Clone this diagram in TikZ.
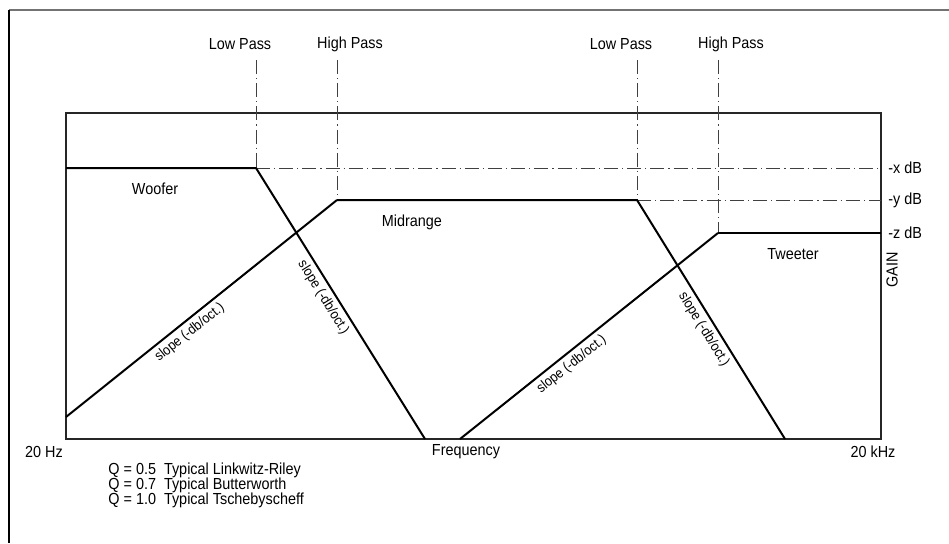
\documentclass[tikz,border=0pt]{standalone}
\usepackage{fontspec}
\setmainfont[FakeStretch=0.9]{Liberation Sans}
\begin{document}
\begin{tikzpicture}[x=0.5pt,y=-0.5pt,
  curve/.style={line width=1pt,black},
  frame/.style={line width=0.75pt,black!85},
  guide/.style={line width=0.5pt,black!75,dash pattern=on 7pt off 2pt on 0.6pt off 2pt},
  lbl/.style={font=\fontsize{8}{9.5}\selectfont,inner sep=0pt},
  slopelbl/.style={font=\fontsize{7}{8}\selectfont,sloped,below,inner sep=2pt}]
\useasboundingbox (0,0) rectangle (949,543);
% outer frame
\draw[line width=1pt,black!55] (9,9.7) -- (949,9.7);
\draw[line width=0.8pt,black] (9,9.7) -- (9,543);
% box
\coordinate (BL) at (66,439);
\coordinate (TR) at (881,113);
\draw[frame] (BL) rectangle (TR);
% key points
\coordinate (W0) at (66,168);
\coordinate (LP1) at (256,168);
\coordinate (LP1b) at (425,439);
\coordinate (M0) at (66,417);
\coordinate (HP1) at (337,200);
\coordinate (LP2) at (637,200);
\coordinate (LP2b) at (785,439);
\coordinate (T0) at (460,439);
\coordinate (HP2) at (718,233);
\coordinate (T1) at (881,233);
\coordinate (XR) at (881,168);
\coordinate (YR) at (881,200);
\coordinate (LP1t) at (256,60);
\coordinate (HP1t) at (337,60);
\coordinate (LP2t) at (637,60);
\coordinate (HP2t) at (718,60);
% guides
\draw[guide] (LP1t) -- (LP1);
\draw[guide] (HP1t) -- (HP1);
\draw[guide] (LP2t) -- (LP2);
\draw[guide] (HP2t) -- (HP2);
\draw[guide] (LP1) -- (XR);
\draw[guide] (LP2) -- (YR);
% curves
\draw[curve] (W0) -- (LP1) -- (LP1b) node[slopelbl,pos=0.456] {slope (-db/oct.)};
\draw[curve] (M0) -- (HP1) node[slopelbl,pos=0.43] {slope (-db/oct.)};
\draw[curve] (HP1) -- (LP2) -- (LP2b) node[slopelbl,pos=0.517] {slope (-db/oct.)};
\draw[curve] (T0) -- (HP2) node[slopelbl,pos=0.405] {slope (-db/oct.)};
\draw[curve] (HP2) -- (T1);
% labels
\node[lbl] (lpa) at (240,44) {Low Pass};
\node[lbl] (hpa) at (350,44) {High Pass};
\node[lbl] (lpb) at (621,44) {Low Pass};
\node[lbl] (hpb) at (731,44) {High Pass};
\node[lbl] (woof) at (155,189) {Woofer};
\node[lbl] (mid) at (412,222) {Midrange};
\node[lbl] (tw) at (793,254) {Tweeter};
\node[lbl,anchor=west] (xdb) at (888,168) {-x dB};
\node[lbl,anchor=west] (ydb) at (888,200) {-y dB};
\node[lbl,anchor=west] (zdb) at (888,233) {-z dB};
\node[lbl,rotate=90] (gain) at (892,270) {GAIN};
\node[lbl] (hz) at (44,452) {20 Hz};
\node[lbl] (freq) at (466,452) {Frequency};
\node[lbl] (khz) at (873,452) {20 kHz};
\node[lbl,anchor=west] (q1) at (108,470) {Q = 0.5\enspace Typical Linkwitz-Riley};
\node[lbl,anchor=west] (q2) at (108,485) {Q = 0.7\enspace Typical Butterworth};
\node[lbl,anchor=west] (q3) at (108,500) {Q = 1.0\enspace Typical Tschebyscheff};
\end{tikzpicture}
\end{document}
